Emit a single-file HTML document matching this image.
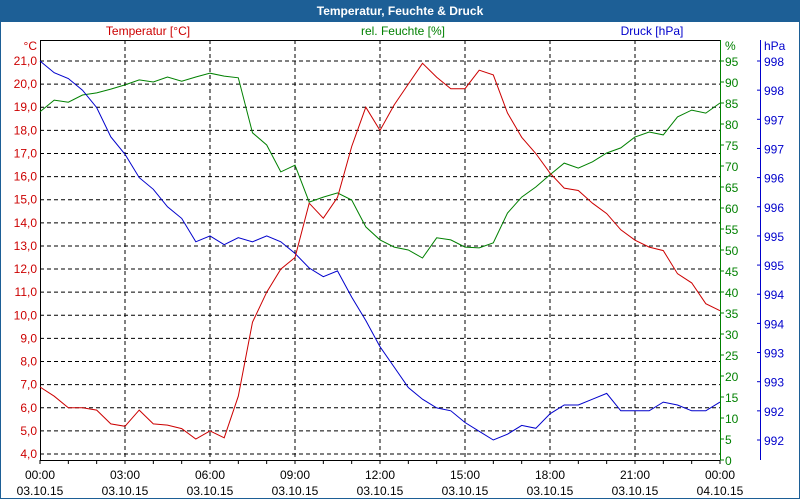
<!DOCTYPE html>
<html><head><meta charset="utf-8"><style>
html,body{margin:0;padding:0;background:#fff;}
#wrap{position:relative;width:800px;height:500px;overflow:hidden;font-family:"Liberation Sans",sans-serif;}
#title{position:absolute;left:0;top:0;width:800px;height:22px;background:#1d5f96;color:#fff;font-weight:bold;font-size:12px;line-height:22px;text-align:center;}
#frame{position:absolute;left:0;top:22px;width:798px;height:476px;border:1px solid #1d5f96;border-top:none;}
svg{position:absolute;left:0;top:0;}
</style></head><body>
<div id="wrap">
<div id="title">Temperatur, Feuchte &amp; Druck</div>
<div id="frame"></div>
<svg id="chart" width="800" height="500"></svg>
</div>
<script>
const hours = [0,0.5,1,1.5,2,2.5,3,3.5,4,4.5,5,5.5,6,6.5,7,7.5,8,8.5,9,9.5,10,10.5,11,11.5,12,12.5,13,13.5,14,14.5,15,15.5,16,16.5,17,17.5,18,18.5,19,19.5,20,20.5,21,21.5,22,22.5,23,23.5,24];
const temperature = [6.9,6.5,6.0,6.0,5.9,5.3,5.2,5.9,5.3,5.25,5.1,4.65,5.0,4.7,6.5,9.7,11.0,12.0,12.5,14.85,14.2,15.1,17.3,19.0,18.0,19.1,20.0,20.9,20.3,19.8,19.8,20.6,20.4,18.75,17.7,17.0,16.15,15.5,15.4,14.85,14.4,13.7,13.25,12.95,12.8,11.8,11.4,10.5,10.2];
const humidity = [82.9,85.7,85.2,86.9,87.4,88.3,89.3,90.5,90,91.2,90.2,91.2,92.1,91.4,91,77.9,75,68.6,70.2,61.4,62.6,63.6,61.9,55.5,52.4,50.7,50,48.1,52.9,52.4,50.7,50.5,51.7,58.8,62.6,65,67.9,70.7,69.5,71,73.1,74.3,76.9,78.1,77.4,81.7,83.3,82.6,85];
const pressure = [998.0,997.8,997.7,997.5,997.2,996.7,996.4,996.0,995.8,995.5,995.3,994.9,995.0,994.85,994.97,994.9,995.0,994.9,994.7,994.45,994.3,994.4,993.95,993.55,993.1,992.75,992.4,992.2,992.05,992.0,991.8,991.65,991.5,991.6,991.75,991.7,991.95,992.1,992.1,992.2,992.3,992.0,992.0,992.0,992.15,992.1,992.0,992.0,992.15];
const tempTicks = [4,5,6,7,8,9,10,11,12,13,14,15,16,17,18,19,20,21];
const humTicks = [0,5,10,15,20,25,30,35,40,45,50,55,60,65,70,75,80,85,90,95];
const presTicks = [998,997.5,997,996.5,996,995.5,995,994.5,994,993.5,993,992.5,992,991.5];
const timeLabels = ["00:00","03:00","06:00","09:00","12:00","15:00","18:00","21:00","00:00"];
const dateLabels = ["03.10.15","03.10.15","03.10.15","03.10.15","03.10.15","03.10.15","03.10.15","03.10.15","04.10.15"];

const X0=40,X1=720,YT=40,YB=460;
const xs = h => X0 + h*(X1-X0)/24;
const yT = t => 61 + (21-t)*(454-61)/17;
const yH = v => 460 - v*(460-61)/95;
const yP = p => 61 + (998-p)*(440-61)/6.5;
const RED="#cc0000",GREEN="#008000",BLUE="#0000cc";
const svg=document.getElementById('chart');
const NS="http://www.w3.org/2000/svg";
function mk(tag,attrs){const e=document.createElementNS(NS,tag);for(const k in attrs)e.setAttribute(k,attrs[k]);svg.appendChild(e);return e;}
function txt(s,x,y,color,anchor,size){const e=mk('text',{x:x,y:y,fill:color,'text-anchor':anchor,'font-size':size||12,'font-family':'Liberation Sans, sans-serif'});e.textContent=s;return e;}

// horizontal grid
tempTicks.forEach(t=>{
  if(t===4||true){const l=mk('line',{x1:X0,x2:X1,y1:yT(t),y2:yT(t),stroke:'#000','stroke-dasharray':'4,3','stroke-width':1});
  
  }
});
// vertical grid
for(let h=3;h<24;h+=3){const l=mk('line',{x1:xs(h),x2:xs(h),y1:YT,y2:YB,stroke:'#000','stroke-dasharray':'4,3'});
  
  }
// frame
let f=mk('line',{x1:X0,x2:X1,y1:YT+0.5,y2:YT+0.5,stroke:'#000'});


f=mk('line',{x1:X0+0.5,x2:X0+0.5,y1:YT,y2:YB,stroke:'#000'});


f=mk('line',{x1:X0,x2:X1,y1:YB+0.5,y2:YB+0.5,stroke:'#000'});


f=mk('line',{x1:X1+0.5,x2:X1+0.5,y1:YT,y2:YB,stroke:GREEN});


f=mk('line',{x1:760.5,x2:760.5,y1:YT,y2:YB,stroke:BLUE});



// x ticks and labels
for(let h=0;h<=24;h++){const t=mk('line',{x1:xs(h),x2:xs(h),y1:YB,y2:YB+4,stroke:'#000'});
  
  }
timeLabels.forEach((s,i)=>{const a=txt(s,xs(i*3),479,'#000','middle');
  
  
  const b=txt(dateLabels[i],xs(i*3),495,'#000','middle');
  
  });

// temp labels
tempTicks.forEach(t=>{const a=txt(t.toFixed(1).replace('.',','),37,yT(t)+4,RED,'end');
  
  });
let u=txt('°C',37,50,RED,'end');


// humidity labels
humTicks.forEach(v=>{const t=mk('line',{x1:X1,x2:X1+4,y1:yH(v),y2:yH(v),stroke:GREEN});
  
  
  const a=txt(String(v),725,yH(v)+5,GREEN,'start');
  
  });
u=txt('%',725,50,GREEN,'start');


// pressure labels
presTicks.forEach(p=>{const t=mk('line',{x1:757,x2:760,y1:yP(p),y2:yP(p),stroke:BLUE});
  
  
  const a=txt(String(Math.round(p+0.001)),764,yP(p)+5,BLUE,'start');
  
  });
u=txt('hPa',764,50,BLUE,'start');



// legends
let lg=txt('Temperatur [°C]',148,35,RED,'middle');


lg=txt('rel. Feuchte [%]',403,35,GREEN,'middle');


lg=txt('Druck [hPa]',652,35,BLUE,'middle');



function series(vals,yf,color,name){
  const pts=vals.map((v,i)=>xs(hours[i]).toFixed(1)+','+yf(v).toFixed(1)).join(' ');
  const p=mk('polyline',{points:pts,fill:'none',stroke:color,'stroke-width':1});
  
  
}
series(humidity,yH,GREEN,'humidity-line');
series(pressure,yP,BLUE,'pressure-line');
series(temperature,yT,RED,'temperature-line');
</script>
</body></html>
